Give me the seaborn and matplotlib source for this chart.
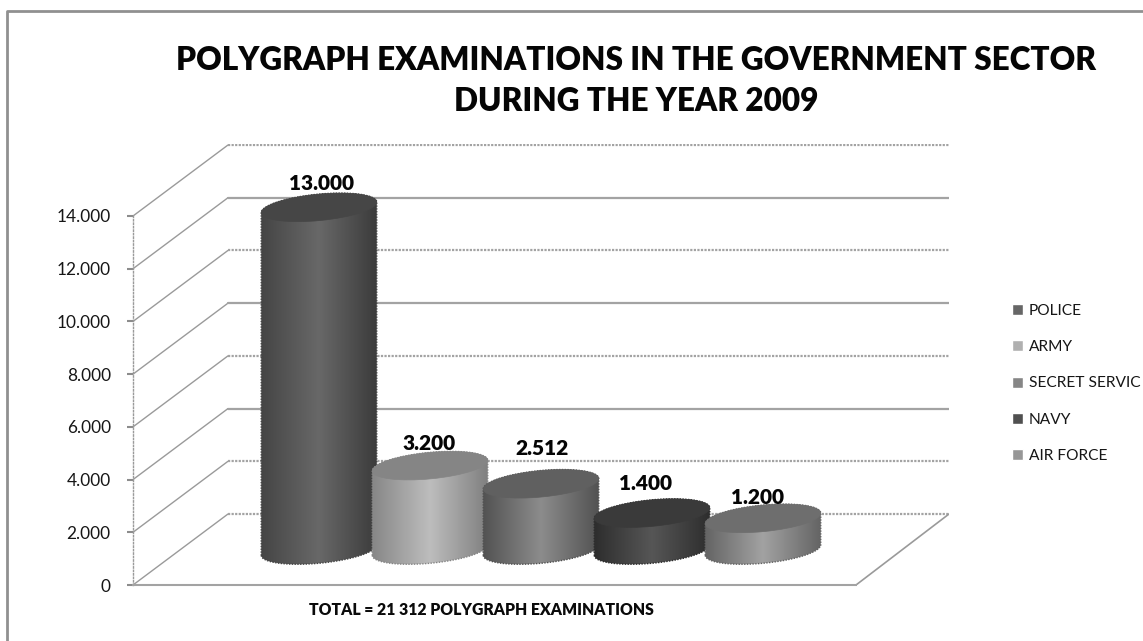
import numpy as np
import pandas as pd
import matplotlib
matplotlib.use('Agg')
import matplotlib.pyplot as plt
import seaborn as sns
from matplotlib.colors import LinearSegmentedColormap
from matplotlib.patches import Ellipse, Polygon
from matplotlib.path import Path
from matplotlib.transforms import IdentityTransform

# data
services = ['POLICE', 'ARMY', 'SECRET SERVIC', 'NAVY', 'AIR FORCE']
exams = [13000, 3200, 2512, 1400, 1200]
y_ticks = [0, 2000, 4000, 6000, 8000, 10000, 12000, 14000]
dotted_walls = [14000, 10000, 6000, 2000, 0]

# colours of each cylinder
legend_cols = ['#666666', '#b0b0b0', '#868686', '#505050', '#979797']
top_cols = ['#464646', '#858585', '#606060', '#3a3a3a', '#6e6e6e']
side_cols = [('#444444', '#686868', '#3a3a3a'),
             ('#858585', '#bdbdbd', '#7e7e7e'),
             ('#505050', '#8c8c8c', '#505050'),
             ('#2c2c2c', '#565656', '#2c2c2c'),
             ('#626262', '#a2a2a2', '#626262')]

# label nudges, in pixels
label_dx = [2, -1, 1.5, -7, -5.5]
label_dy = [24, 22, 35, 30, 21]

W, H = 1143, 641
GRID = '#a3a3a3'
TEXT = '#161616'

sns.set_theme(style='white')
plt.rcParams['font.family'] = ['Lato', 'DejaVu Sans']

fig = plt.figure(figsize=(W / 100, H / 100), dpi=100)
# axes spans the whole 3d box: front left corner to back right corner
ax = fig.add_axes([133 / W, (H - 585) / H, (949 - 133) / W, (585 - 144) / H])

per_px = 14000 / 369
depth_y = 71 * per_px
base = 35 * per_px
x_per_px = 1 / 111
depth_x = 95 * x_per_px
x_front = (133 - 319) * x_per_px
x_floor_end = (856 - 319) * x_per_px
x_back_end = (949 - 319) * x_per_px

df = pd.DataFrame({'service': services, 'exams': exams})
sns.barplot(data=df, x='service', y='exams', hue='service', palette=legend_cols,
            width=1.045, dodge=False, legend=True, ax=ax)

ax.set_xlim(x_front, x_back_end)
ax.set_ylim(0, 441 * per_px)
ax.set_xticks([])
ax.set_ylabel('')
ax.set_yticks(y_ticks, [f'{v:,}'.replace(',', '.') for v in y_ticks])
ax.tick_params(axis='y', left=True, length=4.5, width=1.5, color='#8c8c8c', labelsize=12.4,
               labelcolor=TEXT, pad=11.5)
ax.set_xlabel('TOTAL = 21 312 POLYGRAPH EXAMINATIONS', fontsize=11.3, fontweight='heavy',
              color='#0a0a0a', x=(481 - 133) / 816, labelpad=12)

for s in ['top', 'right']:
    ax.spines[s].set_visible(False)
ax.spines['left'].set_bounds(0, 14000)
ax.spines['left'].set_linestyle((0, (1, 1.5)))
ax.spines['left'].set_color('#9a9a9a')
ax.spines['left'].set_linewidth(1)
ax.spines['bottom'].set_bounds(x_front, x_floor_end)
ax.spines['bottom'].set_color(GRID)
ax.spines['bottom'].set_linewidth(1.5)

# side wall and back wall
for v in y_ticks:
    ax.plot([x_front, x_front + depth_x], [v, v + depth_y], color='#9a9a9a', lw=1, zorder=1)
    dotted = v in dotted_walls
    ax.plot([x_front + depth_x, x_back_end], [v + depth_y, v + depth_y], color=GRID,
            lw=1.6, ls=(0, (1, 0.6)) if dotted else '-', zorder=1)
ax.plot([x_floor_end, x_back_end], [0, depth_y], color='#9a9a9a', lw=1.2, zorder=1)

# cylinders, built on the bars of the barplot
tilt = np.deg2rad(5.5)
semi_b = 13.2


def arc(cx, cy, a, start, stop):
    t = np.linspace(start, stop, 60)
    xs = cx + a * np.cos(tilt) * np.cos(t) - semi_b * np.sin(tilt) * np.sin(t)
    ys = cy + a * np.sin(tilt) * np.cos(t) + semi_b * np.cos(tilt) * np.sin(t)
    return np.column_stack([xs, ys])


bars = [b for b in ax.patches if b.get_width() > 0]
for i, bar in enumerate(bars):
    bar.set_y(base)
    bar.set_visible(False)
    cx_data = bar.get_x() + bar.get_width() / 2
    left, y0 = ax.transData.transform((bar.get_x(), bar.get_y()))
    right, y1 = ax.transData.transform((bar.get_x() + bar.get_width(), bar.get_y() + bar.get_height()))
    cx = (left + right) / 2
    a = (right - left) / 2
    t0 = np.arctan2(-semi_b * np.sin(tilt), a * np.cos(tilt))
    outline = np.vstack([arc(cx, y0, a, t0 - np.pi, t0), arc(cx, y1, a, t0, t0 + np.pi)])

    cmap = LinearSegmentedColormap.from_list(f'side{i}', side_cols[i])
    im = ax.imshow(np.linspace(0, 1, 256).reshape(1, -1), cmap=cmap, aspect='auto',
                   extent=(left - 2, right + 2, y0 - 20, y1 + 20),
                   transform=IdentityTransform(), zorder=3 + i)
    im.set_clip_path(Path(np.vstack([outline, outline[:1]])), IdentityTransform())
    # rough dotted rim like the low-res original
    ax.add_patch(Polygon(outline, closed=True, fill=False, ec=side_cols[i][0], lw=1,
                         ls=(0, (1, 1)), transform=IdentityTransform(), zorder=3 + i + 0.1))
    ax.add_patch(Ellipse((cx, y1), 2 * a, 2 * semi_b, angle=np.rad2deg(tilt), fc=top_cols[i],
                         ec=top_cols[i], lw=0.5, transform=IdentityTransform(), zorder=3 + i + 0.2))

    ax.annotate(f'{exams[i]:,}'.replace(',', '.'), (cx_data, bar.get_y() + bar.get_height()),
                xytext=(label_dx[i], label_dy[i]), textcoords='offset pixels', ha='center',
                va='center', fontsize=15, fontweight='heavy', color='#050505', zorder=20)

ax.set_xlim(x_front, x_back_end)
ax.set_ylim(0, 441 * per_px)

sns.move_legend(ax, 'upper left', bbox_to_anchor=(1012 / W, (H - 304) / H),
                bbox_transform=fig.transFigure, frameon=False, title=None, fontsize=11.2,
                handlelength=0.72, handleheight=0.72, handletextpad=0.35, labelspacing=1.43,
                borderpad=0, borderaxespad=0, labelcolor=TEXT)

fig.suptitle('POLYGRAPH EXAMINATIONS IN THE GOVERNMENT SECTOR\nDURING THE YEAR 2009',
             x=636 / W, y=(H - 81) / H, va='center', ha='center', fontsize=22.7,
             fontweight='heavy', color='#050505', linespacing=1.47)

# frame: only left and top edges show
fig.add_artist(plt.Line2D([7 / W, 7 / W, 1], [0, (H - 11) / H, (H - 11) / H], color='#909090', lw=2))

fig.savefig('out.png', dpi=100)
